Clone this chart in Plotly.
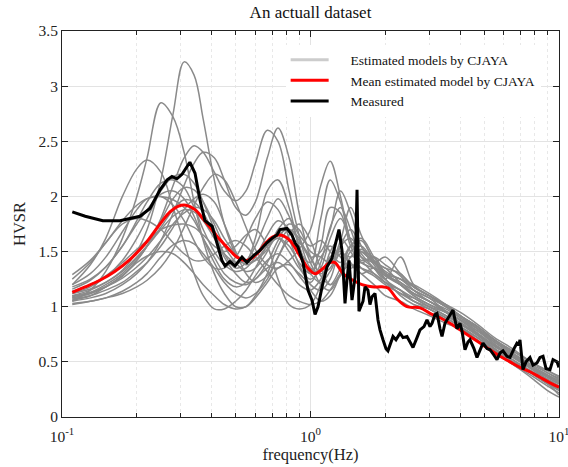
import plotly.graph_objects as go

# Frequency grid for estimated models (Hz)
freq_models = [0.11, 0.13, 0.15, 0.175, 0.2, 0.22, 0.25, 0.28, 0.31, 0.34, 0.37, 0.41, 0.45, 0.5,
               0.55, 0.6, 0.67, 0.74, 0.82, 0.9, 1.0, 1.1, 1.2, 1.32, 1.45, 1.6, 1.8, 2.0, 2.3,
               2.6, 3.0, 3.5, 4.0, 4.7, 5.5, 6.5, 7.7, 9.0, 10.0]

est_models = [
    [1.10, 1.15, 1.22, 1.33, 1.50, 1.70, 2.15, 2.75, 3.22, 3.10, 2.70, 2.15, 1.75, 1.48, 1.38, 1.42, 1.55, 1.62, 1.55, 1.40,
     1.30, 1.45, 1.55, 1.45, 1.35, 1.40, 1.30, 1.22, 1.15, 1.05, 1.00, 0.92, 0.86, 0.75, 0.64, 0.55, 0.45, 0.36, 0.30],
    [1.05, 1.15, 1.32, 1.62, 2.00, 2.35, 2.85, 2.72, 2.40, 1.95, 1.60, 1.30, 1.12, 1.00, 1.00, 1.08, 1.22, 1.35, 1.38, 1.30,
     1.22, 1.40, 1.72, 1.90, 1.70, 1.45, 1.35, 1.25, 1.10, 1.02, 0.98, 0.88, 0.80, 0.72, 0.60, 0.50, 0.42, 0.32, 0.26],
    [1.20, 1.38, 1.62, 2.00, 2.25, 2.33, 2.22, 1.90, 1.58, 1.30, 1.10, 0.98, 0.98, 1.05, 1.15, 1.28, 1.42, 1.48, 1.40, 1.28,
     1.15, 1.05, 1.10, 1.30, 1.55, 1.62, 1.45, 1.30, 1.20, 1.12, 1.05, 0.95, 0.88, 0.76, 0.65, 0.56, 0.46, 0.38, 0.32],
    [1.08, 1.12, 1.18, 1.28, 1.42, 1.55, 1.80, 2.10, 2.35, 2.46, 2.40, 2.22, 2.05, 1.96, 2.05, 2.30, 2.60, 2.50, 2.05, 1.65,
     1.35, 1.32, 1.45, 1.50, 1.38, 1.30, 1.20, 1.10, 1.05, 0.98, 0.92, 0.85, 0.80, 0.70, 0.58, 0.48, 0.38, 0.28, 0.22],
    [1.05, 1.08, 1.12, 1.20, 1.30, 1.40, 1.60, 1.85, 2.10, 2.30, 2.40, 2.35, 2.15, 1.90, 1.83, 1.95, 2.35, 2.62, 2.35, 1.85,
     1.45, 1.30, 1.35, 1.55, 1.62, 1.48, 1.35, 1.22, 1.12, 1.08, 1.00, 0.95, 0.85, 0.75, 0.62, 0.52, 0.40, 0.30, 0.25],
    [1.12, 1.18, 1.27, 1.42, 1.62, 1.80, 2.05, 2.18, 2.20, 2.12, 1.95, 1.70, 1.48, 1.35, 1.40, 1.62, 2.05, 2.15, 1.90, 1.55,
     1.30, 1.55, 1.90, 1.85, 1.55, 1.40, 1.45, 1.30, 1.20, 1.10, 1.02, 0.95, 0.88, 0.80, 0.66, 0.55, 0.45, 0.37, 0.31],
    [1.18, 1.25, 1.36, 1.55, 1.78, 1.95, 2.12, 2.15, 2.08, 1.90, 1.70, 1.50, 1.38, 1.32, 1.35, 1.45, 1.65, 1.78, 1.70, 1.50,
     1.40, 1.80, 2.15, 1.95, 1.60, 1.45, 1.40, 1.35, 1.22, 1.15, 1.08, 0.96, 0.88, 0.78, 0.68, 0.58, 0.48, 0.40, 0.35],
    [1.08, 1.12, 1.18, 1.28, 1.42, 1.55, 1.78, 1.98, 2.08, 2.06, 1.95, 1.75, 1.55, 1.40, 1.32, 1.35, 1.50, 1.70, 1.80, 1.65,
     1.55, 1.60, 1.50, 1.40, 1.55, 1.60, 1.42, 1.30, 1.25, 1.15, 1.05, 0.98, 0.90, 0.80, 0.70, 0.60, 0.50, 0.42, 0.37],
    [1.20, 1.30, 1.45, 1.68, 1.88, 1.98, 2.00, 1.92, 1.78, 1.60, 1.45, 1.35, 1.35, 1.45, 1.62, 1.80, 1.95, 1.88, 1.62, 1.38,
     1.20, 1.15, 1.25, 1.55, 1.70, 1.55, 1.40, 1.35, 1.30, 1.18, 1.10, 1.02, 0.92, 0.82, 0.70, 0.58, 0.46, 0.36, 0.30],
    [1.03, 1.05, 1.08, 1.12, 1.18, 1.24, 1.36, 1.52, 1.72, 1.92, 2.08, 2.20, 2.15, 1.95, 1.72, 1.52, 1.38, 1.35, 1.42, 1.52,
     1.70, 2.10, 2.32, 2.00, 1.60, 1.40, 1.35, 1.28, 1.22, 1.12, 1.05, 0.96, 0.88, 0.76, 0.64, 0.54, 0.44, 0.34, 0.28],
    [1.02, 1.05, 1.08, 1.14, 1.22, 1.30, 1.45, 1.56, 1.60, 1.57, 1.48, 1.35, 1.22, 1.12, 1.08, 1.12, 1.25, 1.45, 1.65, 1.75,
     1.60, 1.35, 1.20, 1.28, 1.45, 1.52, 1.42, 1.25, 1.15, 1.05, 0.98, 0.90, 0.82, 0.72, 0.60, 0.48, 0.36, 0.24, 0.18],
    [1.06, 1.10, 1.18, 1.28, 1.40, 1.46, 1.50, 1.48, 1.40, 1.30, 1.20, 1.10, 1.02, 0.98, 1.00, 1.10, 1.30, 1.55, 1.70, 1.62,
     1.40, 1.20, 1.15, 1.30, 1.50, 1.55, 1.40, 1.28, 1.20, 1.12, 1.05, 0.95, 0.85, 0.74, 0.62, 0.50, 0.40, 0.30, 0.24],
    [1.10, 1.13, 1.18, 1.26, 1.36, 1.45, 1.60, 1.75, 1.85, 1.90, 1.88, 1.78, 1.62, 1.48, 1.40, 1.42, 1.52, 1.65, 1.70, 1.60,
     1.45, 1.50, 1.70, 2.05, 1.85, 1.55, 1.40, 1.45, 1.30, 1.18, 1.10, 1.00, 0.92, 0.82, 0.70, 0.58, 0.46, 0.38, 0.33],
    [1.07, 1.10, 1.15, 1.22, 1.32, 1.40, 1.55, 1.72, 1.88, 1.98, 2.02, 1.95, 1.75, 1.50, 1.30, 1.22, 1.28, 1.45, 1.60, 1.58,
     1.45, 1.28, 1.20, 1.35, 1.55, 1.50, 1.40, 1.30, 1.25, 1.20, 1.12, 1.02, 0.92, 0.82, 0.70, 0.60, 0.50, 0.40, 0.34],
    [1.25, 1.40, 1.58, 1.75, 1.80, 1.78, 1.70, 1.58, 1.48, 1.42, 1.42, 1.48, 1.55, 1.60, 1.55, 1.45, 1.32, 1.20, 1.10, 1.05,
     1.02, 1.05, 1.15, 1.30, 1.38, 1.35, 1.30, 1.22, 1.15, 1.08, 1.00, 0.92, 0.84, 0.74, 0.62, 0.52, 0.42, 0.32, 0.27],
    [1.29, 1.42, 1.58, 1.78, 1.92, 1.98, 2.00, 1.97, 1.90, 1.78, 1.62, 1.45, 1.30, 1.22, 1.20, 1.25, 1.35, 1.40, 1.32, 1.20,
     1.15, 1.25, 1.45, 1.50, 1.40, 1.30, 1.35, 1.30, 1.20, 1.10, 1.02, 0.96, 0.88, 0.78, 0.66, 0.55, 0.44, 0.34, 0.28],
    [1.14, 1.20, 1.28, 1.40, 1.52, 1.60, 1.70, 1.74, 1.75, 1.72, 1.65, 1.55, 1.50, 1.55, 1.65, 1.70, 1.55, 1.25, 1.02, 0.98,
     1.02, 1.20, 1.50, 1.62, 1.50, 1.35, 1.28, 1.20, 1.12, 1.05, 0.98, 0.90, 0.82, 0.72, 0.60, 0.50, 0.40, 0.30, 0.20],
    [1.16, 1.24, 1.36, 1.55, 1.75, 1.88, 2.02, 2.05, 1.98, 1.82, 1.62, 1.40, 1.25, 1.18, 1.22, 1.35, 1.55, 1.62, 1.50, 1.35,
     1.25, 1.35, 1.62, 1.80, 1.60, 1.42, 1.45, 1.38, 1.28, 1.15, 1.08, 1.00, 0.90, 0.80, 0.68, 0.56, 0.44, 0.34, 0.28],
    [1.12, 1.16, 1.22, 1.32, 1.45, 1.55, 1.70, 1.82, 1.88, 1.86, 1.78, 1.62, 1.48, 1.40, 1.42, 1.55, 1.80, 1.98, 1.82, 1.55,
     1.30, 1.22, 1.32, 1.48, 1.45, 1.50, 1.38, 1.25, 1.45, 1.20, 1.10, 1.00, 0.92, 0.80, 0.68, 0.57, 0.47, 0.38, 0.32],
    [1.09, 1.13, 1.20, 1.30, 1.44, 1.55, 1.72, 1.88, 1.97, 1.95, 1.85, 1.65, 1.45, 1.30, 1.22, 1.25, 1.40, 1.60, 1.75, 1.70,
     1.50, 1.45, 1.40, 1.60, 1.90, 1.65, 1.42, 1.32, 1.25, 1.18, 1.10, 1.02, 0.95, 0.84, 0.72, 0.62, 0.50, 0.42, 0.36],
]

# Mean estimated model
freq_mean = [0.110, 0.124, 0.142, 0.163, 0.188, 0.216, 0.248, 0.272, 0.293, 0.315, 0.343, 0.369, 0.394,
             0.420, 0.444, 0.474, 0.506, 0.555, 0.609, 0.656, 0.700, 0.754, 0.827, 0.907, 0.977, 1.043,
             1.113, 1.198, 1.255, 1.352, 1.483, 1.612, 1.768, 1.940, 2.050, 2.229, 2.445, 2.758, 3.026,
             3.320, 3.642, 3.996, 4.384, 4.809, 5.277, 5.788, 6.350, 6.966, 7.642, 8.385, 9.200, 10.0]
hvsr_mean = [1.13, 1.18, 1.24, 1.32, 1.43, 1.57, 1.75, 1.86, 1.91, 1.92, 1.88, 1.80, 1.72,
             1.64, 1.58, 1.51, 1.45, 1.42, 1.48, 1.57, 1.63, 1.65, 1.60, 1.46, 1.35, 1.30,
             1.34, 1.40, 1.40, 1.30, 1.24, 1.20, 1.18, 1.18, 1.17, 1.07, 1.00, 0.99, 0.94,
             0.90, 0.85, 0.79, 0.73, 0.67, 0.61, 0.55, 0.50, 0.45, 0.41, 0.36, 0.31, 0.27]

# Measured HVSR
freq_meas = [0.110, 0.124, 0.146, 0.171, 0.206, 0.226, 0.248, 0.265, 0.277, 0.290, 0.304, 0.327, 0.343,
             0.359, 0.376, 0.402, 0.420, 0.440, 0.453, 0.474, 0.497, 0.530, 0.555, 0.587, 0.626, 0.668,
             0.700, 0.733, 0.754, 0.804, 0.842, 0.866, 0.891, 0.933, 0.977, 1.014, 1.043, 1.072, 1.113,
             1.165, 1.220, 1.278, 1.302, 1.339, 1.377, 1.403, 1.429, 1.469, 1.511, 1.539, 1.567, 1.627,
             1.657, 1.703, 1.735, 1.768, 1.818, 1.869, 1.904, 1.958, 2.013, 2.050, 2.108, 2.148, 2.208,
             2.292, 2.357, 2.445, 2.514, 2.585, 2.683, 2.758, 2.862, 2.943, 3.026, 3.083, 3.170, 3.229,
             3.320, 3.382, 3.477, 3.542, 3.642, 3.745, 3.815, 3.887, 3.996, 4.071, 4.185, 4.302, 4.384,
             4.548, 4.677, 4.809, 4.945, 5.132, 5.277, 5.475, 5.629, 5.788, 5.952, 6.177, 6.350, 6.592,
             6.777, 6.903, 6.966, 7.164, 7.366, 7.642, 7.859, 8.155, 8.385, 8.623, 8.866, 9.200, 9.460,
             9.817, 10.0]
hvsr_meas = [1.86, 1.82, 1.78, 1.78, 1.82, 1.89, 2.06, 2.15, 2.18, 2.16, 2.20, 2.31, 2.21,
             1.97, 1.78, 1.73, 1.58, 1.42, 1.37, 1.41, 1.37, 1.45, 1.40, 1.46, 1.51, 1.58,
             1.62, 1.65, 1.70, 1.71, 1.65, 1.58, 1.54, 1.40, 1.15, 1.06, 0.93, 1.00, 1.18,
             1.36, 1.44, 1.62, 1.70, 1.51, 1.03, 1.25, 1.42, 1.06, 1.27, 2.06, 0.96, 1.05,
             1.18, 1.15, 1.02, 1.09, 1.12, 0.88, 0.79, 0.70, 0.62, 0.60, 0.68, 0.73, 0.70,
             0.76, 0.72, 0.73, 0.68, 0.63, 0.72, 0.79, 0.82, 0.88, 0.82, 0.85, 0.93, 0.94,
             0.80, 0.73, 0.85, 0.88, 0.92, 0.97, 0.88, 0.80, 0.85, 0.78, 0.61, 0.68, 0.70,
             0.62, 0.54, 0.60, 0.67, 0.62, 0.61, 0.56, 0.52, 0.58, 0.60, 0.55, 0.54, 0.62,
             0.67, 0.66, 0.70, 0.43, 0.50, 0.54, 0.47, 0.49, 0.54, 0.55, 0.44, 0.43, 0.52,
             0.50, 0.45]

x_tickvals = [0.1, 1, 10]
x_ticktext = ["10<sup>-1</sup>", "10<sup>0</sup>", "10<sup>1</sup>"]
x_minor = [0.2, 0.3, 0.4, 0.5, 0.6, 0.7, 0.8, 0.9, 2, 3, 4, 5, 6, 7, 8, 9]
y_tickvals = [0, 0.5, 1, 1.5, 2, 2.5, 3, 3.5]
y_ticktext = ["0", "0.5", "1", "1.5", "2", "2.5", "3", "3.5"]

FONT = "Liberation Serif, Times New Roman, serif"
PAD = "\u00a0" * 5

fig = go.Figure()
for vals in est_models:
    fig.add_trace(go.Scatter(x=freq_models, y=vals, mode="lines",
                             line=dict(color="#8a8a8a", width=1.5, shape="spline", smoothing=1.0),
                             showlegend=False, hoverinfo="skip"))
# legend entries
fig.add_trace(go.Scatter(x=[None], y=[None], mode="lines", name=PAD + "Estimated models by CJAYA",
                         line=dict(color="#cccccc", width=3)))
fig.add_trace(go.Scatter(x=freq_mean, y=hvsr_mean, mode="lines", name=PAD + "Mean estimated model by CJAYA",
                         line=dict(color="#ff0000", width=3, shape="spline", smoothing=1.0)))
fig.add_trace(go.Scatter(x=freq_meas, y=hvsr_meas, mode="lines", name=PAD + "Measured",
                         line=dict(color="#000000", width=3)))

fig.update_layout(
    width=568, height=467,
    margin=dict(l=62, r=9, t=31, b=50),
    paper_bgcolor="white", plot_bgcolor="white",
    font=dict(family=FONT, size=15, color="#222222"),
    title=dict(text="An actuall dataset", x=0.5, xref="paper", xanchor="center",
               y=0.975, yref="container", yanchor="middle", font=dict(size=17, color="#111111")),
    legend=dict(x=0.45, y=0.965, xanchor="left", yanchor="top", bgcolor="white",
                borderwidth=0, font=dict(size=13.5, color="#111111"), itemwidth=38,
                tracegroupgap=0),
    showlegend=True,
)
fig.update_xaxes(type="log", range=[-1, 1.00001], tickvals=x_tickvals, ticktext=x_ticktext,
                 ticks="inside", ticklen=6, tickcolor="#222222", showline=True, linecolor="#222222",
                 linewidth=1, mirror="allticks", showgrid=True, gridcolor="#e3e3e3", gridwidth=1,
                 zeroline=False, ticklabelstandoff=5, tickfont=dict(size=15.5),
                 ticklabeloverflow="allow", automargin=False,
                 minor=dict(tickvals=x_minor, ticks="inside", ticklen=4, tickcolor="#222222",
                            showgrid=True, gridcolor="#e8e8e8", griddash="dot", gridwidth=1),
                 title=dict(text="frequency(Hz)", standoff=2, font=dict(size=16.5)))
fig.update_yaxes(range=[0, 3.5], tickvals=y_tickvals, ticktext=y_ticktext,
                 ticks="inside", ticklen=6, tickcolor="#222222", showline=True, linecolor="#222222",
                 linewidth=1, mirror="allticks", showgrid=True, gridcolor="#e3e3e3", gridwidth=1,
                 zeroline=False, tickfont=dict(size=15.5), automargin=False,
                 title=dict(text="HVSR", standoff=8, font=dict(size=16.5)))

fig.write_html("out.html")
